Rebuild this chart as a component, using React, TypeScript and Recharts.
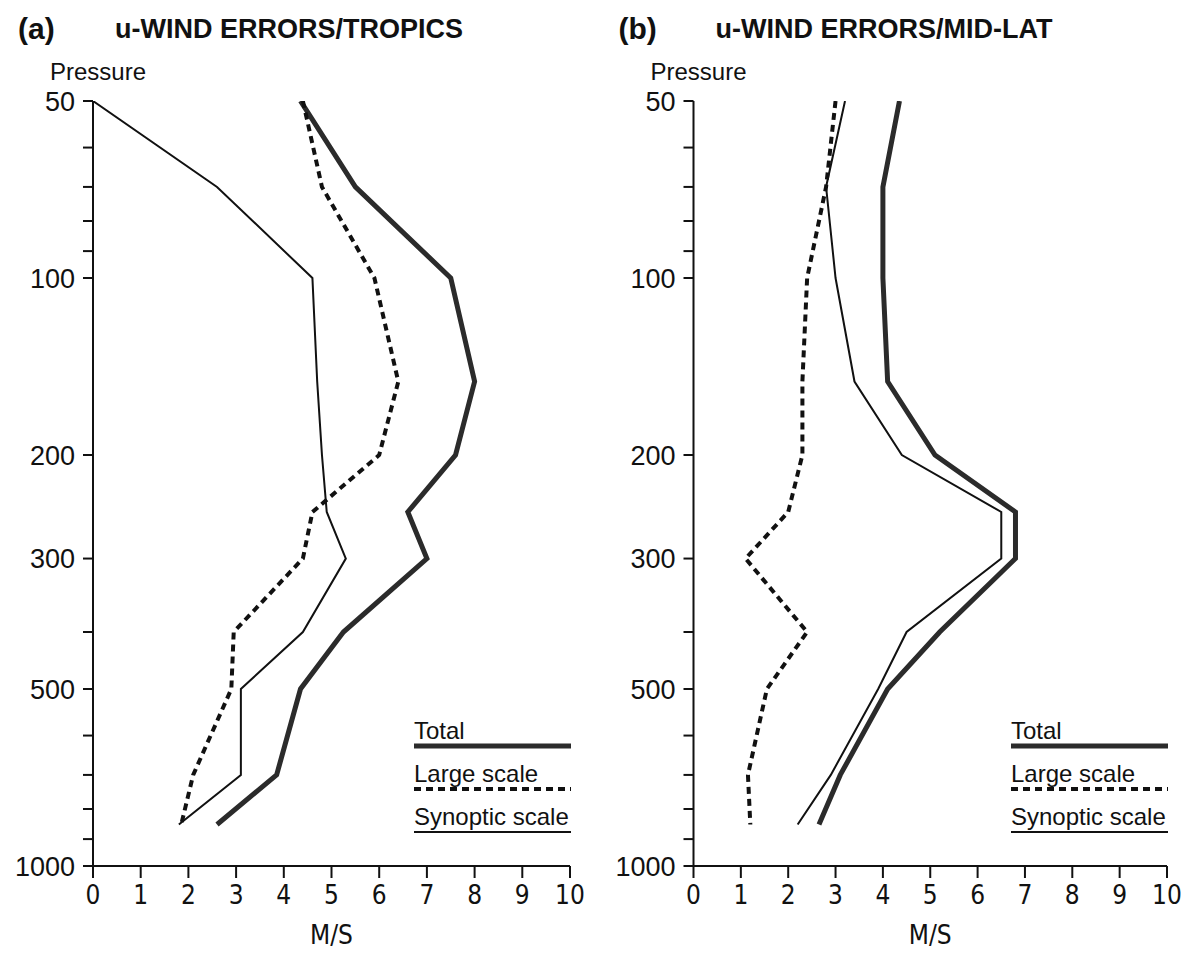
import React from 'react';
import { ScatterChart, Scatter, XAxis, YAxis } from 'recharts';

// pressure levels (hPa) at which errors are given
const levels = [50, 70, 100, 150, 200, 250, 300, 400, 500, 700, 850];

// (a) tropics, M/S
const tropicsTotal = [4.35, 5.5, 7.5, 8.0, 7.6, 6.6, 7.0, 5.25, 4.35, 3.85, 2.6];
const tropicsLarge = [4.4, 4.8, 5.9, 6.4, 6.0, 4.6, 4.4, 2.95, 2.9, 2.1, 1.85];
const tropicsSynoptic = [0, 2.6, 4.6, 4.7, 4.8, 4.9, 5.3, 4.4, 3.1, 3.1, 1.8];

// (b) mid-latitudes, M/S
const midlatTotal = [4.35, 4.0, 4.0, 4.1, 5.1, 6.8, 6.8, 5.2, 4.1, 3.1, 2.65];
const midlatLarge = [3.0, 2.8, 2.4, 2.3, 2.3, 2.0, 1.1, 2.4, 1.55, 1.15, 1.2];
const midlatSynoptic = [3.2, 2.8, 3.0, 3.4, 4.4, 6.5, 6.5, 4.5, 3.9, 2.9, 2.2];

const pressureTicks = [50, 60, 70, 80, 90, 100, 200, 300, 400, 500, 600, 700, 800, 900, 1000];
const pressureLabels = [50, 100, 200, 300, 500, 1000];
const speedTicks = [0, 1, 2, 3, 4, 5, 6, 7, 8, 9, 10];

const legendNames = ['Total', 'Large scale', 'Synoptic scale'];

const INK = '#111';
const SANS = "'Liberation Sans', Arial, sans-serif";
const NARROW = "'Liberation Sans Narrow', 'DejaVu Sans Condensed', 'Liberation Sans', sans-serif";

const toRows = (values: number[]) => levels.map((p, i) => ({ p, v: values[i] }));

const noMarker = () => <g />;

const lineStyles: Record<string, any> = {
  'Total': { stroke: '#2b2b2b', strokeWidth: 5, strokeLinejoin: 'miter' },
  'Large scale': { stroke: INK, strokeWidth: 4, strokeDasharray: '7 5' },
  'Synoptic scale': { stroke: INK, strokeWidth: 2 },
};

// legend drawn as an overlay so it does not take room from the plot
const LegendBox = ({ left, top }: { left: number; top: number }) => (
  <div style={{ position: 'absolute', left, top, fontFamily: SANS, fontSize: 24, color: INK }}>
    {legendNames.map(name => (
      <div key={name} style={{ height: 43 }}>
        <div style={{ lineHeight: '25px', height: 25, whiteSpace: 'nowrap' }}>{name}</div>
        <svg width={157} height={8} style={{ display: 'block' }}>
          <line x1={0} x2={157} y1={3} y2={3} {...lineStyles[name]} />
        </svg>
      </div>
    ))}
  </div>
);

interface PanelProps {
  letter: string;
  title: string;
  total: number[];
  large: number[];
  synoptic: number[];
  left: number;
  width: number;
  marginLeft: number;
  marginRight: number;
}

const Panel: React.FC<PanelProps> = ({ letter, title, total, large, synoptic, left, width, marginLeft, marginRight }) => {
  const plotLeft = marginLeft + 80;
  const plotRight = width - marginRight;
  return (
    <div style={{ position: 'absolute', left, top: 0, width, height: 961 }}>
      <div style={{ position: 'absolute', left: plotLeft - 75, top: 14, fontFamily: SANS, fontSize: 30, fontWeight: 700, lineHeight: 1, whiteSpace: 'nowrap' }}>
        {letter}
      </div>
      <div style={{ position: 'absolute', left: plotLeft + 22, top: 16, fontFamily: SANS, fontSize: 27, fontWeight: 700, lineHeight: 1, whiteSpace: 'nowrap' }}>
        {title}
      </div>
      <div style={{ position: 'absolute', left: plotLeft - 43, top: 60, fontFamily: SANS, fontSize: 24, lineHeight: 1 }}>
        Pressure
      </div>
      <div style={{ position: 'absolute', left: plotLeft, width: plotRight - plotLeft, top: 922, textAlign: 'center', fontFamily: NARROW, fontSize: 26, lineHeight: 1 }}>
        M/S
      </div>
      <ScatterChart width={width} height={961} margin={{ top: 101, right: marginRight, bottom: 35, left: marginLeft }}>
        <XAxis
          type="number"
          dataKey="v"
          domain={[0, 10]}
          ticks={speedTicks}
          interval={0}
          height={60}
          tickSize={12}
          tickMargin={8}
          axisLine={{ stroke: INK, strokeWidth: 2 }}
          tickLine={{ stroke: INK, strokeWidth: 2 }}
          tick={{ fill: INK, fontSize: 26, fontFamily: NARROW }}
        />
        <YAxis
          type="number"
          dataKey="p"
          scale="log"
          domain={[50, 1000]}
          reversed
          allowDataOverflow
          ticks={pressureTicks}
          interval={0}
          width={80}
          tickSize={10}
          tickMargin={8}
          tickFormatter={(p: number) => (pressureLabels.includes(p) ? String(p) : '')}
          axisLine={{ stroke: INK, strokeWidth: 2 }}
          tickLine={{ stroke: INK, strokeWidth: 2 }}
          tick={{ fill: INK, fontSize: 27, fontFamily: SANS }}
        />
        <Scatter name="Total" data={toRows(total)} line={lineStyles['Total']} shape={noMarker} fill={INK} isAnimationActive={false} />
        <Scatter name="Large scale" data={toRows(large)} line={lineStyles['Large scale']} shape={noMarker} fill={INK} isAnimationActive={false} />
        <Scatter name="Synoptic scale" data={toRows(synoptic)} line={lineStyles['Synoptic scale']} shape={noMarker} fill={INK} isAnimationActive={false} />
      </ScatterChart>
      <LegendBox left={plotRight - 156} top={718} />
    </div>
  );
};

export default function App() {
  return (
    <div style={{ position: 'absolute', left: 0, top: 0, width: 1187, height: 961, background: '#fff', color: INK }}>
      <Panel letter="(a)" title="u-WIND ERRORS/TROPICS" total={tropicsTotal} large={tropicsLarge} synoptic={tropicsSynoptic}
        left={0} width={600} marginLeft={13} marginRight={30} />
      <Panel letter="(b)" title="u-WIND ERRORS/MID-LAT" total={midlatTotal} large={midlatLarge} synoptic={midlatSynoptic}
        left={600} width={587} marginLeft={13.5} marginRight={20} />
    </div>
  );
}
